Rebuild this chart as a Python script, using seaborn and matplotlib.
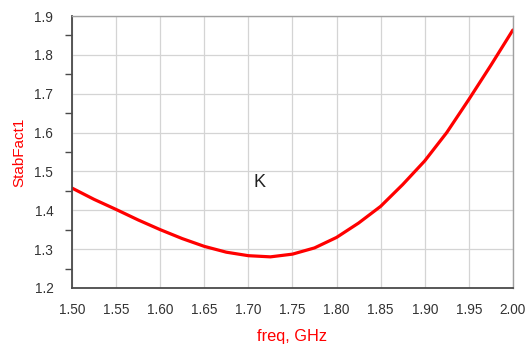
import numpy as np
import pandas as pd
import matplotlib
matplotlib.use("Agg")
import matplotlib.pyplot as plt
import seaborn as sns
from matplotlib.ticker import MultipleLocator

# ── data ─────────────────────────────────────────────────────
freq = [1.500, 1.525, 1.550, 1.575, 1.600, 1.625, 1.650, 1.675, 1.700,
        1.725, 1.750, 1.775, 1.800, 1.825, 1.850, 1.875, 1.900, 1.925,
        1.950, 1.975, 2.000]
stab_k = [1.457, 1.428, 1.402, 1.375, 1.350, 1.327, 1.307, 1.292, 1.283,
          1.280, 1.287, 1.303, 1.330, 1.367, 1.410, 1.466, 1.527, 1.600,
          1.685, 1.773, 1.864]
x_ticks = [1.50, 1.55, 1.60, 1.65, 1.70, 1.75, 1.80, 1.85, 1.90, 1.95, 2.00]
y_ticks = [1.2, 1.3, 1.4, 1.5, 1.6, 1.7, 1.8, 1.9]

df = pd.DataFrame({"freq": freq, "K": stab_k})

sns.set_style("white")
plt.rcParams["font.family"] = ["Liberation Sans", "DejaVu Sans"]

fig = plt.figure(figsize=(5.26, 3.49), dpi=100)
ax = fig.add_axes([0.137, 0.175, 0.838, 0.779])

sns.lineplot(data=df, x="freq", y="K", color="#ff0000", linewidth=2.3, ax=ax)

ax.set_xlim(1.5, 2.0)
ax.set_ylim(1.2, 1.9)
ax.set_xticks(x_ticks)
ax.set_xticklabels([f"{v:.2f}" for v in x_ticks])
ax.set_yticks(y_ticks)
ax.set_yticklabels([f"{v:.1f}" for v in y_ticks])
ax.yaxis.set_minor_locator(MultipleLocator(0.05))

ax.grid(True, which="major", color="#d4d4d4", linewidth=0.9)
ax.set_axisbelow(True)

for side in ["left", "bottom"]:
    ax.spines[side].set_color("#4a4a4a")
    ax.spines[side].set_linewidth(1.3)
for side in ["top", "right"]:
    ax.spines[side].set_color("#a0a0a0")
    ax.spines[side].set_linewidth(1.0)

ax.tick_params(axis="both", which="major", direction="out", width=1.1,
               color="#4a4a4a", labelsize=9.8, labelcolor="#333333")
ax.tick_params(axis="y", which="major", length=12, pad=1.5)
ax.tick_params(axis="x", which="major", length=8, pad=2.5)
ax.tick_params(axis="y", which="minor", direction="out", length=5,
               width=1.0, color="#4a4a4a", left=True)

ax.set_xlabel("freq, GHz", color="#ff0000", fontsize=11.8, labelpad=9)
ax.set_ylabel("StabFact1", color="#ff0000", fontsize=11, labelpad=6)

ax.text(1.713, 1.471, "K", fontsize=13, color="#222222",
        ha="center", va="center")

fig.savefig("out.png", dpi=100)
plt.close(fig)
